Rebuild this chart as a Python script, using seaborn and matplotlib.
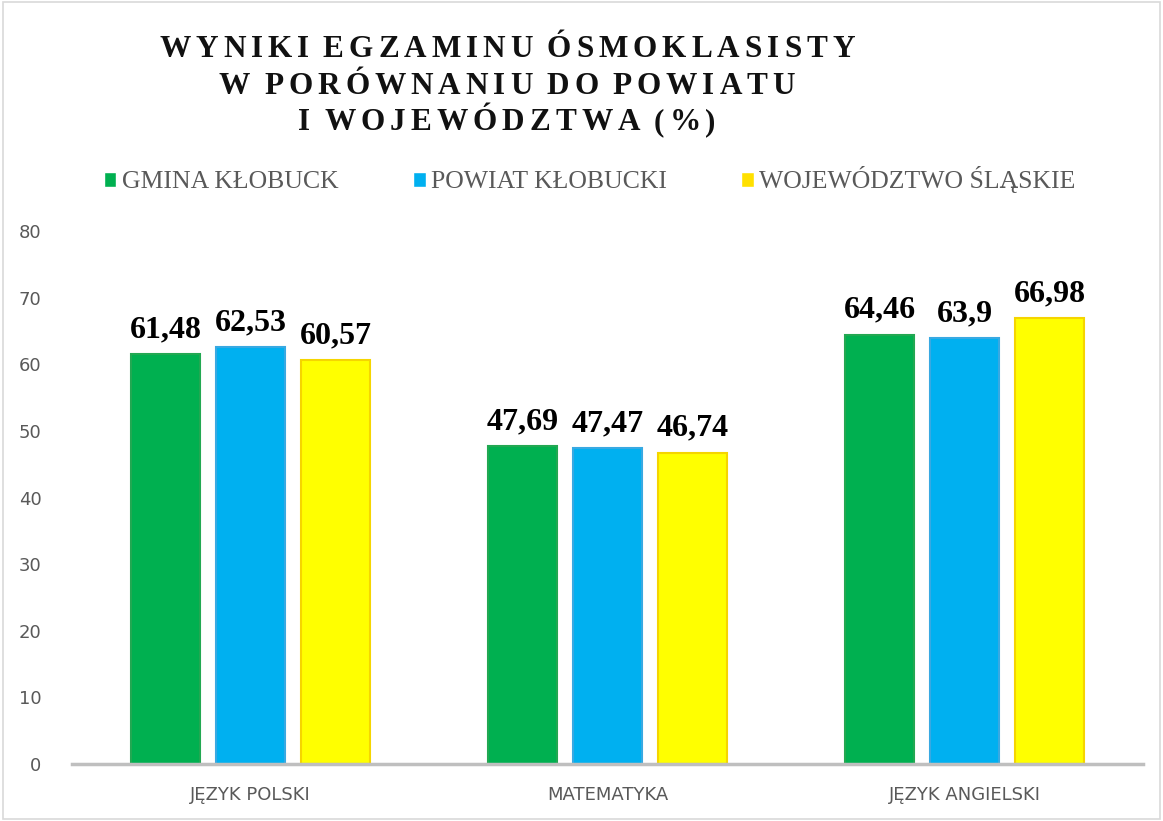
import pandas as pd
import matplotlib.pyplot as plt
import seaborn as sns
from matplotlib.patches import Rectangle

subjects = ['JĘZYK POLSKI', 'MATEMATYKA', 'JĘZYK ANGIELSKI']
series = ['GMINA KŁOBUCK', 'POWIAT KŁOBUCKI', 'WOJEWÓDZTWO ŚLĄSKIE']
gmina = [61.48, 47.69, 64.46]
powiat = [62.53, 47.47, 63.90]
wojew = [60.57, 46.74, 66.98]
labels = [['61,48', '47,69', '64,46'],
          ['62,53', '47,47', '63,9'],
          ['60,57', '46,74', '66,98']]
colors = ['#00B050', '#00B0F0', '#FFFF00']
edges = ['#22A852', '#38A9E2', '#F5D500']
title_lines = ['WYNIKI EGZAMINU ÓSMOKLASISTY', 'W PORÓWNANIU DO POWIATU', 'I WOJEWÓDZTWA (%)']

df = pd.DataFrame({
    'subject': subjects * 3,
    'series': [s for s in series for _ in subjects],
    'value': gmina + powiat + wojew,
})

sns.set_style('white')
plt.rcParams['font.family'] = ['DejaVu Sans']

fig = plt.figure(figsize=(11.63, 8.21), dpi=100)
ax = fig.add_axes([0.062, 0.0694, 0.921, 0.6492])

sns.barplot(data=df, x='subject', y='value', hue='series', palette=colors,
            saturation=1, width=0.716, gap=0.19, ax=ax, legend=False)

for i, cont in enumerate(ax.containers):
    for bar in cont:
        bar.set_edgecolor(edges[i])
        bar.set_linewidth(1.5)
    ax.bar_label(cont, labels=labels[i], padding=7, fontsize=23,
                 fontweight='bold', family='Liberation Serif', color='black')

ax.set_ylim(0, 80)
ax.set_xlim(-0.5, 2.5)
ax.set_yticks(range(0, 81, 10))
ax.set_xlabel('')
ax.set_ylabel('')
for s in ['top', 'right', 'left']:
    ax.spines[s].set_visible(False)
ax.spines['bottom'].set_color('#BFBFBF')
ax.spines['bottom'].set_linewidth(2.5)
ax.tick_params(axis='both', length=0, labelsize=13, labelcolor='#595959')
ax.tick_params(axis='x', pad=16)
ax.tick_params(axis='y', pad=22)

# legend
handles = [Rectangle((0, 0), 1, 1, facecolor=c) for c in ['#00B050', '#00B0F0', '#FFE000']]
fig.legend(handles, series, loc='center', bbox_to_anchor=(0.507, 0.781), ncol=3,
           frameon=False, handlelength=0.5, handleheight=0.5, handletextpad=0.2,
           columnspacing=2.9, prop={'family': 'Liberation Serif', 'size': 18.5},
           labelcolor='#595959')

# title with letter spacing: each character drawn as text, advanced by its width
fig.canvas.draw()
renderer = fig.canvas.get_renderer()
spacing = 5.0
space_w = 4.0
for line, y in zip(title_lines, [57, 94, 130]):
    widths = []
    for ch in line:
        if ch == ' ':
            widths.append(space_w)
            continue
        t = fig.text(0, 0, ch, fontsize=22.5, fontweight='bold', family='Liberation Serif')
        widths.append(t.get_window_extent(renderer).width)
        t.remove()
    total = sum(widths) + spacing * (len(line) - 1)
    x = 507 - total / 2
    for ch, w in zip(line, widths):
        if ch != ' ':
            fig.text(x / 1163, 1 - y / 821, ch, ha='left', va='baseline', fontsize=22.5,
                     fontweight='bold', family='Liberation Serif', color='#111111')
        x += w + spacing

# outer border
fig.patches.append(Rectangle((0.003, 0.003), 0.994, 0.994, transform=fig.transFigure,
                             fill=False, edgecolor='#D9D9D9', linewidth=1.2))

fig.savefig('out.png', dpi=100)
